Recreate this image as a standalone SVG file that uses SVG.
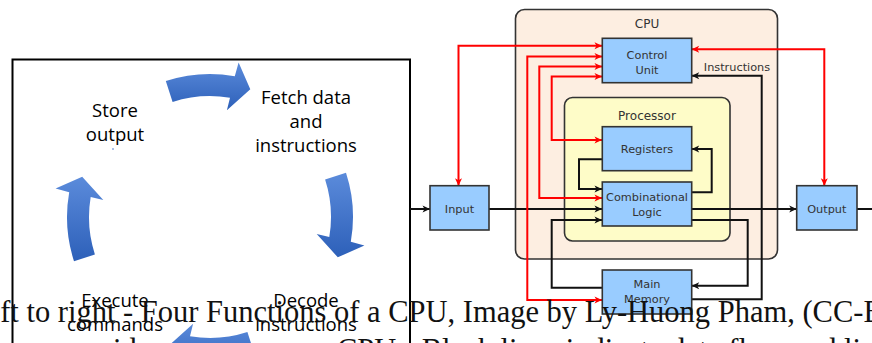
<svg xmlns="http://www.w3.org/2000/svg" width="872" height="343" viewBox="0 0 872 343">
  <style>
    .cyc { font-family: "Open Sans", "Liberation Sans", sans-serif; font-size: 18.5px; fill: #000; text-anchor: middle; }
    .lbl { font-family: "DejaVu Sans", "Liberation Sans", sans-serif; font-size: 11.3px; fill: #333; text-anchor: middle; }
    .grp { font-family: "DejaVu Sans", "Liberation Sans", sans-serif; font-size: 12px; fill: #333; text-anchor: middle; }
    .box { fill: #99ccff; stroke: #333; stroke-width: 1.6; }
    .data { fill: none; stroke: #111; stroke-width: 2; marker-end: url(#ah-black); }
    .ctrl { fill: none; stroke: #ff0000; stroke-width: 2; marker-start: url(#ah-red); marker-end: url(#ah-red); }
    .cap { font-family: "Liberation Serif", "Times New Roman", serif; font-size: 30.5px; fill: #111; }
  </style>
  <defs>
    <linearGradient id="blue" x1="0" y1="0" x2="0" y2="1">
      <stop offset="0" stop-color="#5b8bdb"/>
      <stop offset="1" stop-color="#2d60b9"/>
    </linearGradient>
    <marker id="ah-black" markerUnits="userSpaceOnUse" markerWidth="10" markerHeight="10" viewBox="-8 -5 9 10" refX="0" refY="0" orient="auto-start-reverse">
      <path d="M0,0 L-7.5,-3.5 L-5.5,0 L-7.5,3.5 Z" fill="#111"/>
    </marker>
    <marker id="ah-red" markerUnits="userSpaceOnUse" markerWidth="10" markerHeight="10" viewBox="-8 -5 9 10" refX="0" refY="0" orient="auto-start-reverse">
      <path d="M0,0 L-7.5,-3.5 L-5.5,0 L-7.5,3.5 Z" fill="#ff0000"/>
    </marker>
  </defs>

  <rect width="872" height="343" fill="#fff"/>

  <!-- Left panel: four-step instruction cycle -->
  <g id="cycle-panel">
    <rect x="12.5" y="59.5" width="397.5" height="300" fill="#fff" stroke="#000" stroke-width="2"/>
    <path d="M165.8,81 A143,143 0 0 1 234.8,76.2 L238.6,62.6 L250.3,89.2 L226.9,110.3 L230,97.7 A121,121 0 0 0 172.6,101.9 Z" fill="url(#blue)"/>
    <path d="M346,172.8 A143,143 0 0 1 350.8,241.8 L364.4,245.6 L337.8,257.3 L316.7,233.9 L329.3,237 A121,121 0 0 0 325.1,179.6 Z" fill="url(#blue)"/>
    <path d="M254.2,353 A143,143 0 0 1 185.2,357.8 L181.4,371.4 L169.7,344.8 L193.1,323.7 L190,336.3 A121,121 0 0 0 247.4,332.1 Z" fill="url(#blue)"/>
    <path d="M74,261.2 A143,143 0 0 1 69.2,192.2 L55.6,188.4 L82.2,176.7 L103.3,200.1 L90.7,197 A121,121 0 0 0 94.9,254.4 Z" fill="url(#blue)"/>
    <circle cx="113" cy="149" r="0.8" fill="#3a6cc8"/>
  </g>
  <g id="step-store">
    <text class="cyc" x="115" y="117">Store</text>
    <text class="cyc" x="115" y="140.5">output</text>
  </g>
  <g id="step-fetch">
    <text class="cyc" x="306" y="104">Fetch data</text>
    <text class="cyc" x="306" y="128">and</text>
    <text class="cyc" x="306" y="152">instructions</text>
  </g>
  <g id="step-execute">
    <text class="cyc" x="115" y="307">Execute</text>
    <text class="cyc" x="115" y="331">commands</text>
  </g>
  <g id="step-decode">
    <text class="cyc" x="306" y="307">Decode</text>
    <text class="cyc" x="306" y="331">instructions</text>
  </g>

  <!-- Right panel: containers -->
  <g id="cpu">
    <rect x="515.5" y="9.5" width="262" height="249.5" rx="9" fill="#fdeee1" stroke="#333" stroke-width="1.6"/>
    <text class="grp" x="647" y="27.5" font-size="11.6">CPU</text>
  </g>
  <g id="processor">
    <rect x="564.5" y="97.5" width="165.5" height="143.5" rx="8" fill="#fefcc8" stroke="#333" stroke-width="1.6"/>
    <text class="grp" x="647" y="119.5">Processor</text>
  </g>

  <!-- Connectors: black = data flow, red = control flow -->
  <g id="connectors">
    <path class="data" d="M410,209 H430"/>
    <path class="data" d="M489,209 H602"/>
    <path class="data" d="M691.7,209 H796.7"/>
    <path d="M857,209 H872" fill="none" stroke="#111" stroke-width="2"/>
    <path class="data" d="M602,159.3 H579 V189 H602"/>
    <path class="data" d="M691.7,192.3 H711.7 V149 H691.7"/>
    <path class="data" d="M691.7,220 H747.7 V285.7 H691.7"/>
    <path class="data" d="M602,287.7 H551.7 V220 H602"/>
    <path class="data" d="M691.7,299.3 H761.7 V75.7 H691.7"/>
    <text class="lbl" x="737" y="70.5">Instructions</text>

    <path class="ctrl" d="M458.5,185.7 V45.7 H602"/>
    <path class="ctrl" d="M602,56.5 H527.3 V300 H602"/>
    <path class="ctrl" d="M602,66.5 H539.3 V198 H602"/>
    <path class="ctrl" d="M602,76.5 H551.7 V140 H602"/>
    <path class="ctrl" d="M691.7,49.3 H824.3 V185.7"/>
  </g>

  <!-- Units -->
  <g id="control-unit">
    <rect class="box" x="602.3" y="38.3" width="89.4" height="44.4"/>
    <text class="lbl" x="647" y="58.5">Control</text>
    <text class="lbl" x="647" y="73.5">Unit</text>
  </g>
  <g id="registers">
    <rect class="box" x="602.3" y="126.7" width="89.4" height="44"/>
    <text class="lbl" x="647" y="152.7">Registers</text>
  </g>
  <g id="combinational-logic">
    <rect class="box" x="602.3" y="182" width="89.4" height="44"/>
    <text class="lbl" x="647" y="200.7">Combinational</text>
    <text class="lbl" x="647" y="216">Logic</text>
  </g>
  <g id="main-memory">
    <rect class="box" x="602.3" y="270" width="89.4" height="44"/>
    <text class="lbl" x="647" y="287.5">Main</text>
    <text class="lbl" x="647" y="303">Memory</text>
  </g>
  <g id="input">
    <rect class="box" x="430" y="185.7" width="59" height="44.3"/>
    <text class="lbl" x="459.5" y="212.7">Input</text>
  </g>
  <g id="output">
    <rect class="box" x="796.7" y="185.7" width="60.3" height="44.3"/>
    <text class="lbl" x="826.8" y="212.7">Output</text>
  </g>

  <!-- Caption lines -->
  <g id="caption">
    <text class="cap" x="-32" y="322">Left to right - Four Functions of a CPU, Image by Ly-Huong Pham, (CC-BY)</text>
    <text class="cap" y="360"><tspan x="113">ide</tspan><tspan x="337">CPU - Black lines indicate data flow, red lines indicate control flow</tspan></text>
  </g>
</svg>
